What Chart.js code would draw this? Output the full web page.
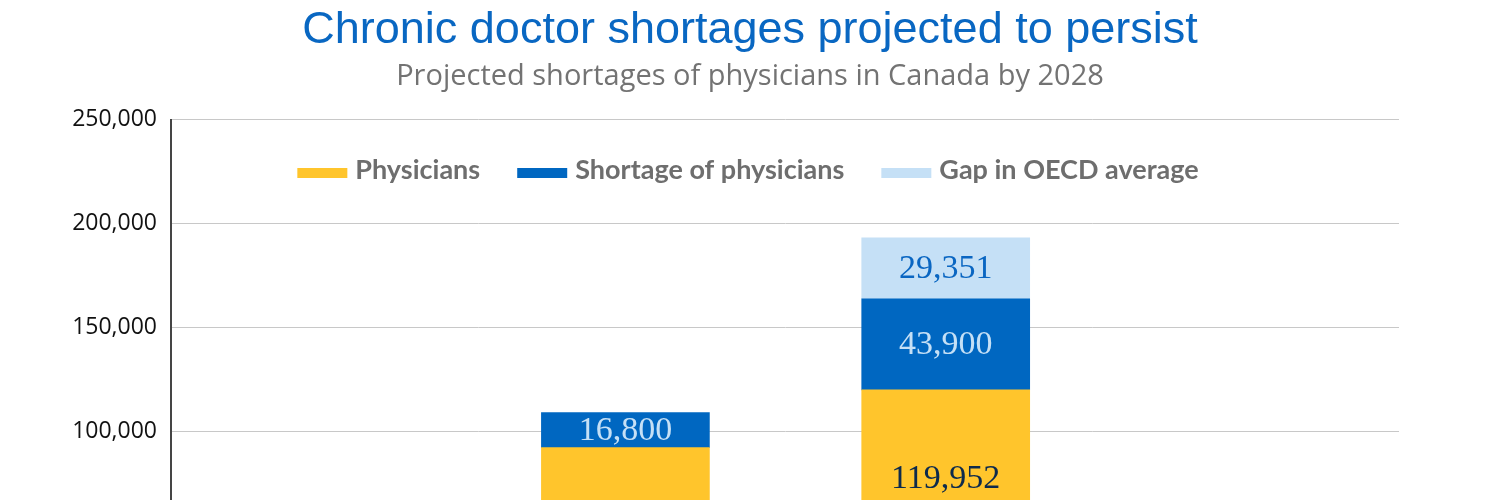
<!DOCTYPE html>
<html>
<head>
<meta charset="utf-8">
<title>Chronic doctor shortages projected to persist</title>
<script src="https://cdn.jsdelivr.net/npm/chart.js@4.4.1/dist/chart.umd.min.js"></script>
<style>
  html, body { margin: 0; padding: 0; background: #fff; overflow: hidden; }
  #wrap { width: 1500px; height: 500px; overflow: hidden; }
</style>
</head>
<body>
<div id="wrap"><canvas id="mycanvas" width="1500" height="680"></canvas></div>
<script>
// data
var categories = ['2020', '2028'];
var physicians = [92173, 119952];
var shortage = [16800, 43900];
var oecdGap = [null, 29351];
var yTicks = [0, 50000, 100000, 150000, 200000, 250000];

function toPoints(values) {
	return categories.map(function(c, i) {
		return { x: i + 1, y: values[i] };
	});
}

// value labels inside the bar segments
var barLabels = {
	id: 'barLabels',
	afterDatasetsDraw: function(chart) {
		var ctx = chart.ctx;
		ctx.save();
		ctx.font = '34px "Liberation Serif"';
		ctx.textAlign = 'center';
		ctx.textBaseline = 'middle';
		chart.data.datasets.forEach(function(ds, di) {
			var meta = chart.getDatasetMeta(di);
			meta.data.forEach(function(bar, i) {
				var v = ds.data[i].y;
				if (v === null || v === undefined) return;
				var y = (bar.y + bar.base) / 2;
				if (ds.labelFromTop) y = bar.y + ds.labelFromTop;
				ctx.fillStyle = ds.labelColor;
				ctx.fillText(v.toLocaleString('en-US'), bar.x, y + 1);
			});
		});
		ctx.restore();
	}
};

// legend drawn inside the plot, as in the original
var innerLegend = {
	id: 'innerLegend',
	afterDraw: function(chart) {
		var ctx = chart.ctx;
		var items = chart.data.datasets;
		ctx.save();
		ctx.font = 'bold 27px Lato';
		var boxW = 50, boxH = 10, gap = 8, spacing = 37;
		var total = 0;
		items.forEach(function(ds, i) {
			total += boxW + gap + ctx.measureText(ds.label).width;
			if (i > 0) total += spacing;
		});
		var x = 748 - total / 2;
		var baseline = 179;
		ctx.textBaseline = 'alphabetic';
		ctx.textAlign = 'left';
		items.forEach(function(ds) {
			ctx.fillStyle = ds.backgroundColor;
			ctx.fillRect(x, baseline - 11, boxW, boxH);
			x += boxW + gap;
			ctx.fillStyle = '#6e6e6e';
			ctx.fillText(ds.label, x, baseline);
			x += ctx.measureText(ds.label).width + spacing;
		});
		ctx.restore();
	}
};

var chartdata = {
	datasets: [
		{
			label: 'Physicians',
			backgroundColor: '#ffc52c',
			labelColor: '#0d2a4c',
			labelFromTop: 88,
			data: toPoints(physicians)
		},
		{
			label: 'Shortage of physicians',
			backgroundColor: '#0067c1',
			labelColor: '#c5e0f6',
			data: toPoints(shortage)
		},
		{
			label: 'Gap in OECD average',
			backgroundColor: '#c5e0f6',
			labelColor: '#0a66c2',
			data: toPoints(oecdGap)
		}
	]
};

var ctx = document.getElementById('mycanvas');

var barGraph = new Chart(ctx, {
	type: 'bar',
	data: chartdata,
	plugins: [barLabels, innerLegend],
	options: {
		responsive: false,
		animation: false,
		events: [],
		barThickness: 168,
		layout: { padding: { left: 0, right: 0, top: 0, bottom: 41 } },
		plugins: {
			legend: { display: false },
			tooltip: { enabled: false },
			title: {
				display: true,
				text: 'Chronic doctor shortages projected to persist',
				color: '#0967c2',
				font: { family: 'Liberation Sans', size: 45, weight: 'normal' },
				padding: { top: 4, bottom: 0 }
			},
			subtitle: {
				display: true,
				text: 'Projected shortages of physicians in Canada by 2028',
				color: '#737373',
				font: { family: 'Open Sans', size: 29, weight: 'normal' },
				padding: { top: 1, bottom: 26 }
			}
		},
		scales: {
			x: {
				type: 'linear',
				stacked: true,
				display: false,
				offset: false,
				min: -0.4187,
				max: 3.4152
			},
			y: {
				stacked: true,
				min: 0,
				max: 250000,
				afterFit: function(scale) { scale.width = 171; },
				afterBuildTicks: function(scale) {
					scale.ticks = yTicks.map(function(v) { return { value: v }; });
				},
				border: { display: true, color: '#454545', width: 2 },
				grid: { color: '#c8c8c8', lineWidth: 1, drawTicks: false },
				ticks: {
					color: '#111',
					padding: 14,
					font: { family: 'Open Sans', size: 23 },
					callback: function(v) { return v.toLocaleString('en-US'); }
				}
			},
			// empty right margin so the title stays centred on the page
			yRight: {
				position: 'right',
				afterFit: function(scale) { scale.width = 101; },
				border: { display: false },
				grid: { display: false },
				ticks: { display: false }
			}
		}
	}
});
</script>
</body>
</html>
